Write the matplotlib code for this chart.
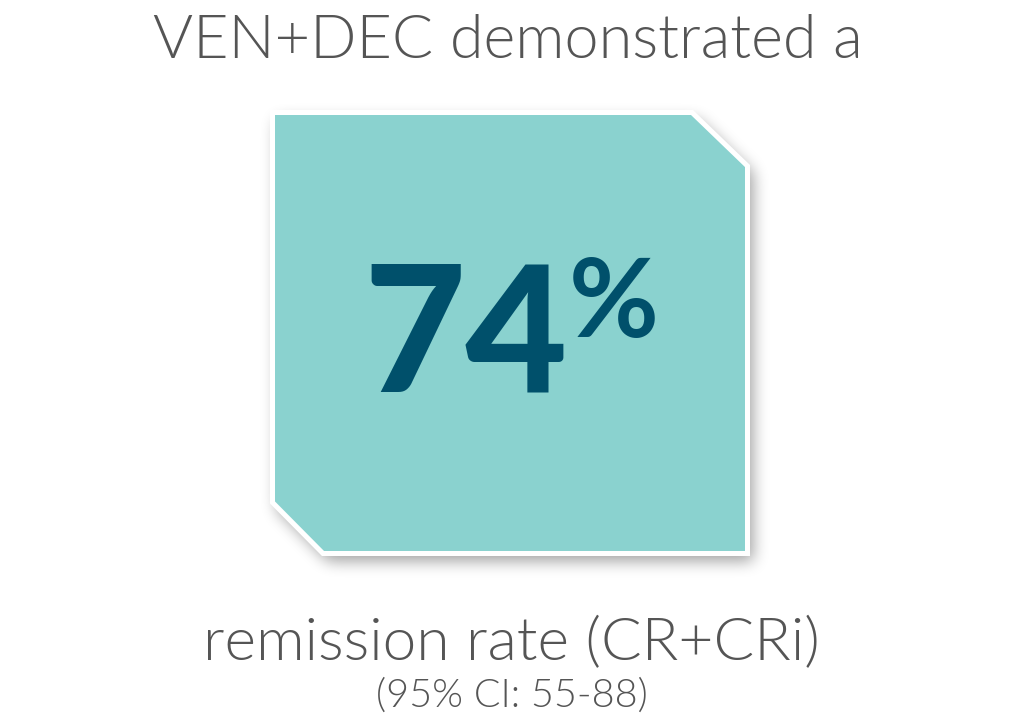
import matplotlib
matplotlib.use("Agg")
import matplotlib.pyplot as plt
import numpy as np
from matplotlib.patches import Polygon
from matplotlib.path import Path

# values shown on the card
RESPONSE_PCT = 74
CI_LOW, CI_HIGH = 55, 88
HEADLINE = "VEN+DEC demonstrated a"
ENDPOINT = "remission rate (CR+CRi)"

TEAL = "#8ad2cf"
DARK = "#00506b"
GREY = "#555555"
W, H = 1020, 720

# card outline (pixel coords, y down), clipped top-right and bottom-left corners
CARD = [(272.5, 112.5), (692, 112.5), (747.5, 166), (747.5, 553.5),
        (323, 553.5), (272.5, 502.5)]


def box_blur(a, r, axis):
    c = np.cumsum(np.pad(a, [(r + 1, r) if i == axis else (0, 0) for i in range(2)]), axis=axis)
    n = a.shape[axis]
    hi = np.take(c, np.arange(2 * r + 1, 2 * r + 1 + n), axis=axis)
    lo = np.take(c, np.arange(0, n), axis=axis)
    return (hi - lo) / (2 * r + 1)


def shadow(poly, dx, dy, r, alpha):
    yy, xx = np.mgrid[0:H, 0:W]
    pts = np.column_stack([xx.ravel() + 0.5 - dx, yy.ravel() + 0.5 - dy])
    m = Path(poly).contains_points(pts).reshape(H, W).astype(float)
    for _ in range(3):
        m = box_blur(m, r, 0)
        m = box_blur(m, r, 1)
    img = np.zeros((H, W, 4))
    img[..., 3] = m * alpha
    return img


fig = plt.figure(figsize=(W / 100, H / 100), dpi=100)
ax = fig.add_axes([0, 0, 1, 1])
ax.set_xlim(0, W); ax.set_ylim(H, 0)
ax.axis("off")

ax.imshow(shadow(CARD, 5, 7, 7, 0.38), extent=(0, W, H, 0), zorder=1, interpolation="bilinear")
ax.add_patch(Polygon(CARD, closed=True, facecolor=TEAL, edgecolor="white",
                     lw=3.6, joinstyle="miter", zorder=2))

font = ["Lato", "DejaVu Sans"]
ax.text(508, 58, HEADLINE, ha="center", va="baseline", fontsize=44,
        color=GREY, family=font, weight=300, zorder=3)
ax.text(568, 392, f"{RESPONSE_PCT}", ha="right", va="baseline", fontsize=127,
        color=DARK, family=font, weight="black", zorder=3)
ax.text(569, 337, "%", ha="left", va="baseline", fontsize=79,
        color=DARK, family=font, weight="bold", zorder=3)
ax.text(511, 660, ENDPOINT, ha="center", va="baseline", fontsize=43.5,
        color=GREY, family=font, weight=300, zorder=3)
ax.text(512, 707, f"(95% CI: {CI_LOW}-{CI_HIGH})", ha="center", va="baseline",
        fontsize=28.5, color=GREY, family=font, weight=300, zorder=3)

fig.savefig("out.png", dpi=100)
